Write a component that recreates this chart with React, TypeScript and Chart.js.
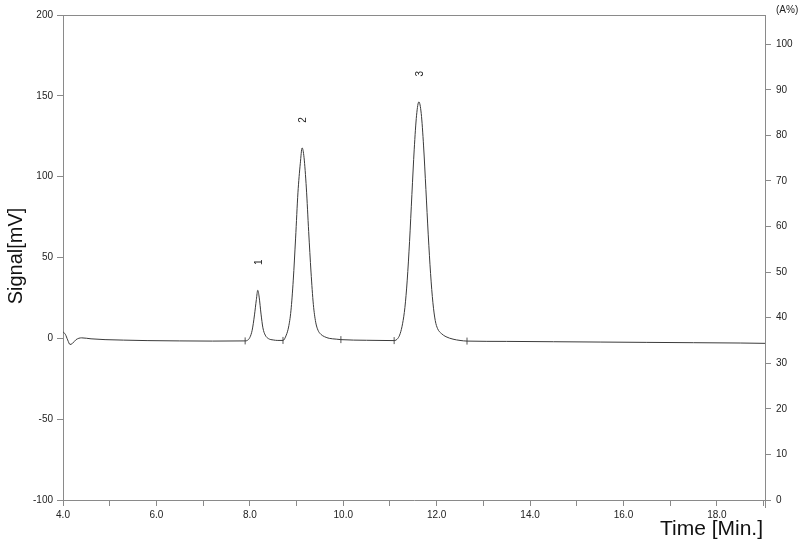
import React, { useEffect, useRef } from "react";
import Chart from "chart.js/auto";

// Chromatogram trace
const TIME = [
  4.0, 4.05, 4.1, 4.15, 4.2, 4.28, 4.4, 4.6, 4.9, 5.3, 5.8, 6.5, 7.2, 7.9,
  7.95, 8.0, 8.05, 8.1, 8.14, 8.17, 8.2, 8.24, 8.28, 8.33, 8.4, 8.5, 8.6, 8.71,
  8.78, 8.83, 8.88, 8.93, 8.98, 9.03, 9.08, 9.12, 9.16, 9.21, 9.26, 9.31, 9.36,
  9.41, 9.46, 9.52, 9.6, 9.7, 9.85, 9.95, 10.5, 11.09,
  11.17, 11.22, 11.27, 11.32, 11.37, 11.42, 11.47, 11.52, 11.57, 11.62, 11.67,
  11.72, 11.77, 11.82, 11.87, 11.92, 11.97, 12.02, 12.1, 12.2, 12.35, 12.5,
  12.65, 13.5, 14.5, 15.5, 16.5, 17.5, 18.5, 19.03,
];
const SIGNAL = [
  4, 2.5, -1, -3.8, -3.2, -0.8, 0.3, -0.3, -0.8, -1.1, -1.4, -1.6, -1.7, -1.6,
  -1.2, 0.5, 5, 14.5, 24, 29.7, 25.5, 15, 6.5, 2, -0.2, -1.0, -1.3, -1.3,
  2, 7, 17, 36, 62, 90, 108, 117.8, 112, 93, 66, 41, 21,
  10, 5, 2.5, 1, 0, -0.5, -0.8, -1.2, -1.4,
  0, 3, 9, 19, 36, 60, 89, 117, 138, 146.3, 139,
  119, 92, 64, 40, 22, 11, 6, 3, 1, -0.5, -1.3,
  -1.7, -1.9, -2.1, -2.3, -2.5, -2.7, -2.9, -3.1,
];

// Peak numbering
const PEAK_LABELS = ["1", "2", "3"];
const PEAK_TIMES = [8.17, 9.12, 11.62];
const PEAK_HEIGHTS = [29.7, 117.8, 146.3];

// Integration markers on the baseline
const MARK_TIMES = [7.9, 8.71, 9.95, 11.09, 12.65];
const MARK_VALUES = [-1.6, -1.3, -0.8, -1.4, -1.7];

// Axes
const X_MIN = 4.0;
const X_MAX = 19.03;
const Y_MIN = -100;
const Y_MAX = 200;
const Y_STEP = 50;
const R_MIN = 0;
const R_MAX = 106.4;
const R_STEP = 10;

const FONT = "'Liberation Sans', Arial, sans-serif";
const AXIS_COLOR = "#8a8a8a";
const TEXT_COLOR = "#222";

const extrasPlugin = {
  id: "extras",
  afterDraw(chart: any) {
    const { ctx, chartArea } = chart;
    const xs = chart.scales.x;
    const ys = chart.scales.y;
    ctx.save();
    // top border
    ctx.strokeStyle = AXIS_COLOR;
    ctx.lineWidth = 1;
    ctx.beginPath();
    ctx.moveTo(chartArea.left, chartArea.top + 0.5);
    ctx.lineTo(chartArea.right, chartArea.top + 0.5);
    ctx.stroke();
    // extend right axis slightly below
    ctx.beginPath();
    ctx.moveTo(chartArea.right + 0.5, chartArea.bottom);
    ctx.lineTo(chartArea.right + 0.5, chartArea.bottom + 8);
    ctx.stroke();

    // Left title
    ctx.fillStyle = "#111";
    ctx.font = `20px ${FONT}`;
    ctx.textAlign = "center";
    ctx.textBaseline = "middle";
    ctx.save();
    ctx.translate(16, 256);
    ctx.rotate(-Math.PI / 2);
    ctx.fillText("Signal[mV]", 0, 0);
    ctx.restore();

    // Bottom title
    ctx.font = `21px ${FONT}`;
    ctx.textAlign = "right";
    ctx.textBaseline = "alphabetic";
    ctx.fillText("Time [Min.]", 763, 535);

    // (A%)
    ctx.font = `10px ${FONT}`;
    ctx.textAlign = "left";
    ctx.textBaseline = "middle";
    ctx.fillStyle = TEXT_COLOR;
    ctx.fillText("(A%)", 776, 10);

    // Peak labels
    ctx.font = `10px ${FONT}`;
    ctx.textAlign = "center";
    ctx.textBaseline = "middle";
    for (let i = 0; i < PEAK_LABELS.length; i++) {
      const px = xs.getPixelForValue(PEAK_TIMES[i]);
      const py = ys.getPixelForValue(PEAK_HEIGHTS[i]) - 28;
      ctx.save();
      ctx.translate(px + 1, py);
      ctx.rotate(-Math.PI / 2);
      ctx.fillText(PEAK_LABELS[i], 0, 0);
      ctx.restore();
    }
    ctx.restore();
  },
};

export default function App() {
  const ref = useRef<HTMLCanvasElement | null>(null);
  useEffect(() => {
    if (!ref.current) return;
    const trace = TIME.map((t, i) => ({ x: t, y: SIGNAL[i] }));
    const marks = MARK_TIMES.map((t, i) => ({ x: t, y: MARK_VALUES[i] }));
    const chart = new Chart(ref.current, {
      type: "line",
      data: {
        datasets: [
          {
            data: trace,
            borderColor: "#3a3a3a",
            borderWidth: 1,
            pointRadius: 0,
            cubicInterpolationMode: "monotone",
            fill: false,
            yAxisID: "y",
          },
          {
            data: marks,
            showLine: false,
            pointStyle: "line",
            rotation: 90,
            pointRadius: 3.5,
            borderColor: "#555",
            borderWidth: 1,
            yAxisID: "y",
          },
        ],
      },
      options: {
        animation: false,
        responsive: false,
        maintainAspectRatio: false,
        layout: { padding: { top: 15, left: 0, right: 0, bottom: 0 } },
        plugins: {
          legend: { display: false },
          tooltip: { enabled: false },
        },
        scales: {
          x: {
            type: "linear",
            min: X_MIN,
            max: X_MAX,
            afterFit: (s: any) => {
              s.height = 43;
            },
            ticks: {
              stepSize: 1,
              includeBounds: false,
              autoSkip: false,
              maxRotation: 0,
              padding: 3,
              color: TEXT_COLOR,
              font: { family: FONT, size: 10 },
              callback: (v: any) => {
                const n = Number(v);
                return Math.round(n) % 2 === 0 ? n.toFixed(1) : "";
              },
            },
            grid: {
              drawOnChartArea: false,
              drawTicks: true,
              tickLength: 6,
              tickColor: AXIS_COLOR,
            },
            border: { display: true, color: AXIS_COLOR },
          },
          y: {
            type: "linear",
            position: "left",
            min: Y_MIN,
            max: Y_MAX,
            afterFit: (s: any) => {
              s.width = 63;
            },
            ticks: {
              stepSize: Y_STEP,
              padding: 4,
              color: TEXT_COLOR,
              font: { family: FONT, size: 10 },
            },
            grid: {
              drawOnChartArea: false,
              drawTicks: true,
              tickLength: 6,
              tickColor: AXIS_COLOR,
            },
            border: { display: true, color: AXIS_COLOR },
          },
          yR: {
            type: "linear",
            position: "right",
            min: R_MIN,
            max: R_MAX,
            afterFit: (s: any) => {
              s.width = 35;
            },
            ticks: {
              stepSize: R_STEP,
              includeBounds: false,
              padding: 5,
              color: TEXT_COLOR,
              font: { family: FONT, size: 10 },
            },
            grid: {
              drawOnChartArea: false,
              drawTicks: true,
              tickLength: 6,
              tickColor: AXIS_COLOR,
            },
            border: { display: true, color: AXIS_COLOR },
          },
        },
      },
      plugins: [extrasPlugin],
    });
    return () => chart.destroy();
  }, []);
  return (
    <div style={{ position: "absolute", left: 0, top: 0, width: 800, height: 543, background: "#fff" }}>
      <canvas ref={ref} width={800} height={543} style={{ display: "block" }} />
    </div>
  );
}
